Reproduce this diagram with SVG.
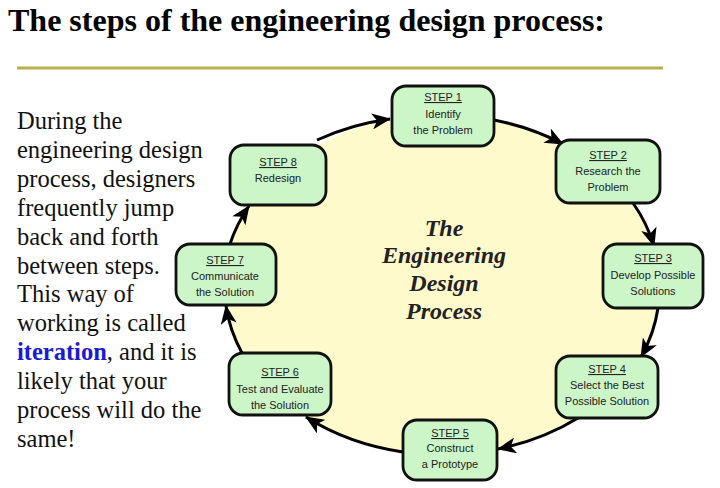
<svg xmlns="http://www.w3.org/2000/svg" width="720" height="488" viewBox="0 0 720 488">
<defs>
<marker id="ah" markerUnits="userSpaceOnUse" markerWidth="22" markerHeight="16" refX="18" refY="8" orient="auto">
<path d="M0,0 L19,8 L0,16 L5,8 z" fill="#000"/>
</marker>
<style>
.box{fill:#ccf5c8;stroke:#111;stroke-width:2.8}
.bt{font-family:"Liberation Sans",Arial,sans-serif;font-size:11px;fill:#222;text-anchor:middle}
.st{text-decoration:underline}
.con{fill:none;stroke:#000;stroke-width:3;marker-end:url(#ah)}
.side{font-family:"Liberation Serif","Times New Roman",serif;font-size:24.5px;fill:#111}
.ctr{font-family:"Liberation Serif","Times New Roman",serif;font-size:24px;font-weight:bold;font-style:italic;fill:#222;text-anchor:middle}
</style>
</defs>
<rect width="720" height="488" fill="#fff"/>
<text x="8" y="31" font-family="Liberation Serif,'Times New Roman',serif" font-size="32" font-weight="bold" fill="#000" textLength="597" lengthAdjust="spacingAndGlyphs">The steps of the engineering design process:</text>
<line x1="17" y1="68" x2="663" y2="68" stroke="#b8b04a" stroke-width="3"/>
<g id="sidetext" class="side">
<text x="17" y="129">During the</text>
<text x="17" y="158">engineering design</text>
<text x="17" y="187">process, designers</text>
<text x="17" y="216">frequently jump</text>
<text x="17" y="245">back and forth</text>
<text x="17" y="274">between steps.</text>
<text x="17" y="302">This way of</text>
<text x="17" y="331">working is called</text>
<text x="17" y="360"><tspan font-weight="bold" fill="#1a1ad6">iteration</tspan>, and it is</text>
<text x="17" y="389">likely that your</text>
<text x="17" y="418">process will do the</text>
<text x="17" y="447">same!</text>
</g>
<ellipse id="cycle" cx="442" cy="285" rx="218" ry="170" fill="#fffacb"/>
<g id="center-title" class="ctr">
<text x="444" y="236">The</text>
<text x="444" y="263">Engineering</text>
<text x="444" y="291">Design</text>
<text x="444" y="319">Process</text>
</g>
<g id="connectors">
<path class="con" d="M317,140 A218,170 0 0 1 390,119"/>
<path class="con" d="M494,120 A218,170 0 0 1 563,144"/>
<path class="con" d="M633,203 A218,170 0 0 1 654,246"/>
<path class="con" d="M658,308 A218,170 0 0 1 641,357"/>
<path class="con" d="M578,418 A218,170 0 0 1 498,449"/>
<path class="con" d="M403,452 A218,170 0 0 1 306,417"/>
<path class="con" d="M242,353 A218,170 0 0 1 226,306"/>
<path class="con" d="M230,244 A218,170 0 0 1 249,206"/>
</g>
<g id="step1">
<rect class="box" x="392" y="86" width="102" height="60" rx="14"/>
<text class="bt st" x="443" y="101">STEP 1</text>
<text class="bt" x="443" y="118">Identify</text>
<text class="bt" x="443" y="134">the Problem</text>
</g>
<g id="step2">
<rect class="box" x="556" y="140" width="104" height="63" rx="14"/>
<text class="bt st" x="608" y="159">STEP 2</text>
<text class="bt" x="608" y="175">Research the</text>
<text class="bt" x="608" y="191">Problem</text>
</g>
<g id="step3">
<rect class="box" x="603" y="244" width="100" height="64" rx="14"/>
<text class="bt st" x="653" y="262">STEP 3</text>
<text class="bt" x="653" y="279">Develop Possible</text>
<text class="bt" x="653" y="295">Solutions</text>
</g>
<g id="step4">
<rect class="box" x="556" y="356" width="102" height="62" rx="14"/>
<text class="bt st" x="607" y="373">STEP 4</text>
<text class="bt" x="607" y="389">Select the Best</text>
<text class="bt" x="607" y="405">Possible Solution</text>
</g>
<g id="step5">
<rect class="box" x="403" y="420" width="94" height="60" rx="14"/>
<text class="bt st" x="450" y="437">STEP 5</text>
<text class="bt" x="450" y="452">Construct</text>
<text class="bt" x="450" y="468">a Prototype</text>
</g>
<g id="step6">
<rect class="box" x="229" y="353" width="102" height="62" rx="14"/>
<text class="bt st" x="280" y="376">STEP 6</text>
<text class="bt" x="280" y="393">Test and Evaluate</text>
<text class="bt" x="280" y="409">the Solution</text>
</g>
<g id="step7">
<rect class="box" x="176" y="244" width="100" height="61" rx="14"/>
<text class="bt st" x="225" y="264">STEP 7</text>
<text class="bt" x="225" y="280">Communicate</text>
<text class="bt" x="225" y="296">the Solution</text>
</g>
<g id="step8">
<rect class="box" x="230" y="145" width="96" height="60" rx="14"/>
<text class="bt st" x="278" y="166">STEP 8</text>
<text class="bt" x="278" y="182">Redesign</text>
</g>
</svg>
